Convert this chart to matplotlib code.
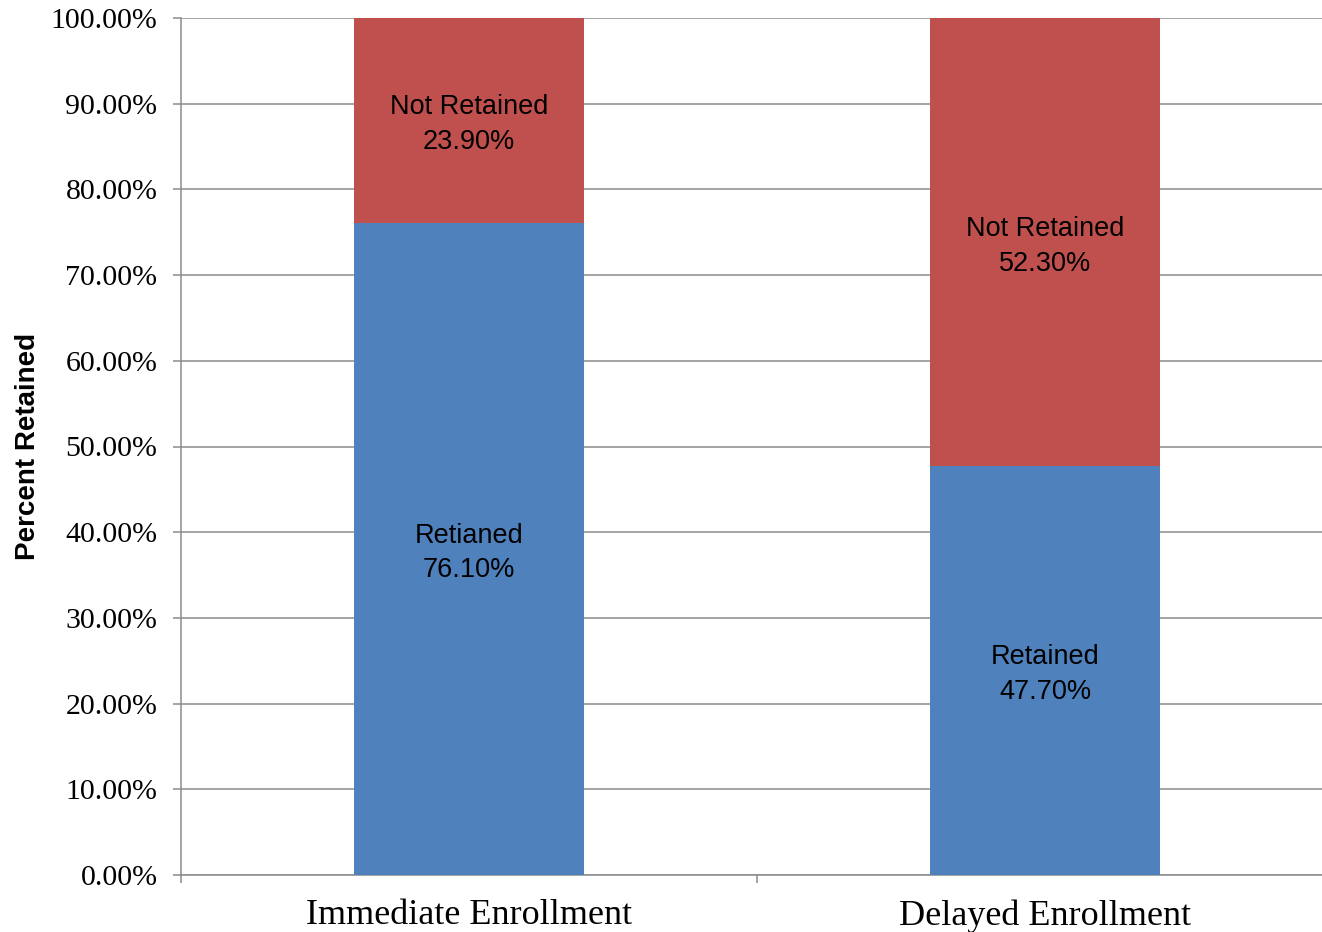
import matplotlib.pyplot as plt
from matplotlib.ticker import FuncFormatter, FixedLocator

categories = ['Immediate Enrollment', 'Delayed Enrollment']
retained = [76.1, 47.7]
not_retained = [23.9, 52.3]
retained_names = ['Retianed', 'Retained']
not_retained_names = ['Not Retained', 'Not Retained']
yticks = [0, 10, 20, 30, 40, 50, 60, 70, 80, 90, 100]

blue = '#4F81BD'
red = '#C0504D'
gray = '#8C8C8C'

fig = plt.figure(figsize=(13.22, 9.32), dpi=100)
ax = fig.add_axes([181 / 1322, 57 / 932, 1152 / 1322, 857 / 932])

x = list(range(len(categories)))
ax.bar(x, retained, width=0.4, color=blue, zorder=3)
ax.bar(x, not_retained, width=0.4, bottom=retained, color=red, zorder=3)

for i in x:
    ax.annotate('%s\n%.2f%%' % (retained_names[i], retained[i]),
                (i, retained[i] / 2), xytext=(0, -3), textcoords='offset points',
                ha='center', va='center', fontsize=19.5, family='Liberation Sans',
                linespacing=1.43, zorder=4)
    ax.annotate('%s\n%.2f%%' % (not_retained_names[i], not_retained[i]),
                (i, retained[i] + not_retained[i] / 2), xytext=(0, -3),
                textcoords='offset points',
                ha='center', va='center', fontsize=19.5, family='Liberation Sans',
                linespacing=1.43, zorder=4)

ax.set_xlim(-0.5, 1.5)
ax.set_ylim(0, 100)
ax.set_yticks(yticks)
ax.yaxis.set_major_formatter(FuncFormatter(lambda v, p: '%.2f%%' % v))
ax.set_xticks(x)
ax.set_xticklabels(categories)
ax.xaxis.set_minor_locator(FixedLocator([-0.5, 0.5, 1.5]))

ax.grid(axis='y', color=gray, linewidth=1.1, zorder=0)
ax.set_axisbelow(True)
for s in ['top', 'right']:
    ax.spines[s].set_visible(False)
for s in ['left', 'bottom']:
    ax.spines[s].set_color(gray)
    ax.spines[s].set_linewidth(1.1)

ax.tick_params(axis='y', direction='out', length=6, width=1.1, color=gray,
               pad=11, labelsize=21.5)
ax.tick_params(axis='x', which='major', length=0, pad=17.5, labelsize=26)
ax.tick_params(axis='x', which='minor', direction='out', length=6, width=1.1, color=gray)
for lab in ax.get_yticklabels() + ax.get_xticklabels():
    lab.set_family('Liberation Serif')

ax.set_ylabel('Percent Retained', fontsize=20, fontweight='bold',
              family='Liberation Sans')
ax.yaxis.set_label_coords(-140 / 1152, 0.5)

fig.savefig('out.png', dpi=100)
